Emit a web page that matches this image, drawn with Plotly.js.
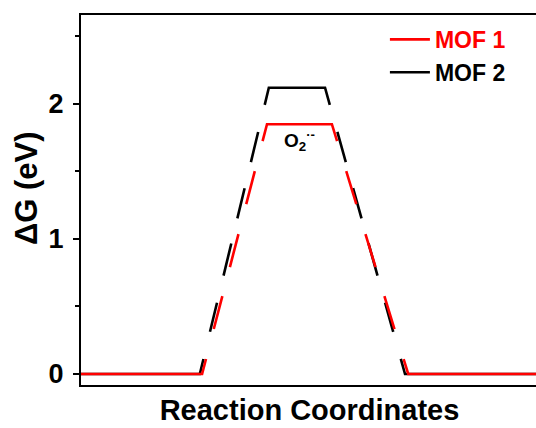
<!DOCTYPE html>
<html>
<head>
<meta charset="utf-8">
<script src="https://cdn.plot.ly/plotly-3.0.1.min.js"></script>
<style>
html,body{margin:0;padding:0;overflow:hidden;background:#fff;width:536px;height:428px;}
#chart{width:540px;height:428px;}
</style>
</head>
<body>
<div id="chart"></div>
<script>
// Reaction coordinate positions (arbitrary units) and free energies (eV)
const mof1X = [0, 2.65, 4.07, 5.49, 7.16, 10];
const mof1G = [0, 0, 1.85, 1.85, 0, 0];
const mof2X = [0, 2.60, 4.11, 5.34, 7.09, 10];
const mof2G = [0, 0, 2.12, 2.12, 0, 0];
const seriesNames = ['MOF 1', 'MOF 2'];
const intermediateLabel = 'O<sub>2</sub><sup>·-</sup>';
const yTicks = [0, 1, 2];
const yTitle = 'ΔG (eV)';
const xTitle = 'Reaction Coordinates';

// dash structure along each connecting slope (relative lengths, from the low end to the high end)
const mof1SlopeDash = [15, 30, 33, 29, 33, 30, 33, 30, 17];
const mof2SlopeDash = [15, 27, 29, 27, 32, 25, 30, 26, 30, 27, 17];

const FONT = 'Arial, "Liberation Sans", sans-serif';

const traces = [
  {x: mof2X, y: mof2G, mode: 'lines', name: '<span style="color:#000000">' + seriesNames[1] + '</span>',
   line: {color: '#000000', width: 2.6}, legendrank: 2},
  {x: mof1X, y: mof1G, mode: 'lines', name: '<span style="color:#ff0000">' + seriesNames[0] + '</span>',
   line: {color: '#ff0000', width: 2.6}, legendrank: 1}
];

const plotW = 540 - 81 - 2, plotH = 428 - 15 - 43;

const layout = {
  width: 540, height: 428,
  margin: {l: 81, r: 2, t: 15, b: 43},
  paper_bgcolor: '#ffffff', plot_bgcolor: '#ffffff',
  font: {family: FONT, color: '#000000'},
  showlegend: true,
  legend: {x: 0.665, y: 0.992, xanchor: 'left', yanchor: 'top', bgcolor: 'rgba(0,0,0,0)',
           itemwidth: 40,
           font: {size: 23, family: FONT, weight: 'bold'}, tracegroupgap: 0},
  xaxis: {range: [0, 10], showticklabels: false, ticks: '', showgrid: false, zeroline: false,
          showline: true, linecolor: '#000', linewidth: 2, mirror: true,
          title: {text: xTitle, font: {size: 29, family: FONT, weight: 'bold'}, standoff: 14}},
  yaxis: {range: [-0.0815, 2.659], tickvals: yTicks, ticktext: yTicks.map(String),
          ticks: 'outside', ticklen: 6, tickwidth: 2, tickcolor: '#000',
          minor: {dtick: 0.5, ticks: 'outside', ticklen: 4, tickwidth: 2, tickcolor: '#000'},
          showgrid: false, zeroline: false, showline: true, linecolor: '#000', linewidth: 2, mirror: true,
          tickfont: {size: 27, family: FONT, weight: 'bold'}, ticklabelstandoff: 4},
  annotations: [
    {x: 4.79, y: 1.73, xref: 'x', yref: 'y', text: intermediateLabel, showarrow: false,
     xanchor: 'center', yanchor: 'middle',
     font: {size: 19, family: FONT, weight: 'bold', color: '#000'}},
    {x: (26 - 81) / plotW, y: (385 - 188) / plotH, xref: 'paper', yref: 'paper', text: yTitle,
     textangle: -90, showarrow: false, xanchor: 'center', yanchor: 'middle',
     font: {size: 31, family: FONT, weight: 'bold', color: '#000'}}
  ]
};

function dashFor(xs, ys, slopePattern, xa, ya) {
  const px = xs.map(v => xa.l2p(v));
  const py = ys.map(v => ya.l2p(v));
  const seg = [];
  for (let i = 0; i < px.length - 1; i++) seg.push(Math.hypot(px[i+1]-px[i], py[i+1]-py[i]));
  const tot = slopePattern.reduce((a, b) => a + b, 0);
  const up = slopePattern.map(v => v / tot);
  const down = up.slice().reverse();
  const out = [];
  out.push(seg[0] + up[0] * seg[1]);
  for (let k = 1; k < up.length - 1; k++) out.push(up[k] * seg[1]);
  out.push(up[up.length-1] * seg[1] + seg[2] + down[0] * seg[3]);
  for (let k = 1; k < down.length - 1; k++) out.push(down[k] * seg[3]);
  out.push(down[down.length-1] * seg[3] + seg[4]);
  out.push(2000);
  return out.map(v => v.toFixed(2) + 'px').join(',');
}

Plotly.newPlot('chart', traces, layout, {displayModeBar: false, staticPlot: true}).then(gd => {
  const xa = gd._fullLayout.xaxis, ya = gd._fullLayout.yaxis;
  const d2 = dashFor(mof2X, mof2G, mof2SlopeDash, xa, ya);
  const d1 = dashFor(mof1X, mof1G, mof1SlopeDash, xa, ya);
  return Plotly.restyle(gd, {'line.dash': [d2, d1]}, [0, 1]);
});
</script>
</body>
</html>
